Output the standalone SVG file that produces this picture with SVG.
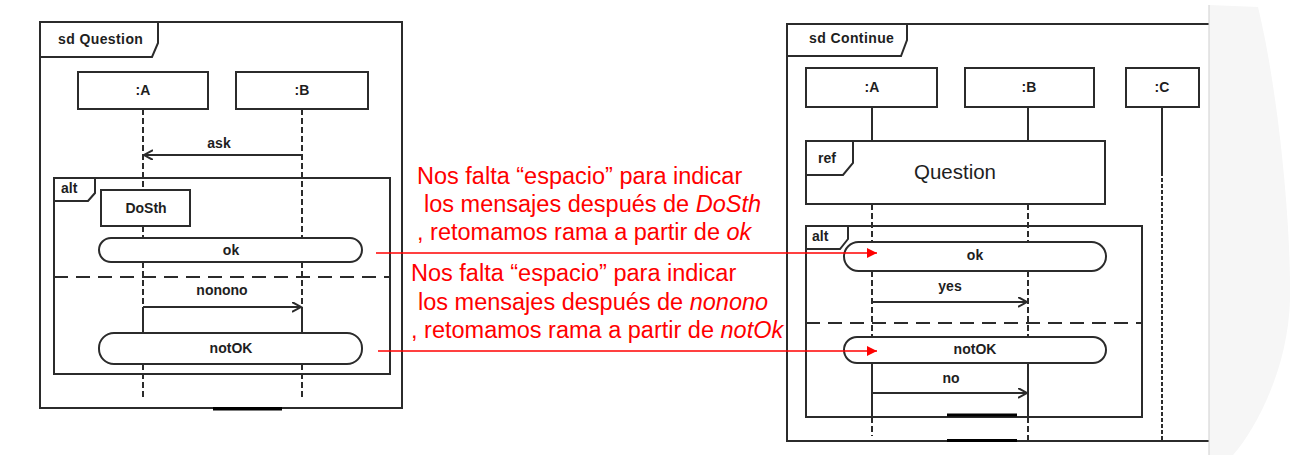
<svg xmlns="http://www.w3.org/2000/svg" width="1291" height="460" viewBox="0 0 1291 460">
<defs>
<style>
.fr{fill:none;stroke:#2b2b2b;stroke-width:2}
.bx{fill:#fff;stroke:#2b2b2b;stroke-width:2}
.ll{fill:none;stroke:#2b2b2b;stroke-width:2}
.dl{fill:none;stroke:#2b2b2b;stroke-width:2;stroke-dasharray:6 3}
.dc{fill:none;stroke:#2b2b2b;stroke-width:2;stroke-dasharray:4 2}
.dv{fill:none;stroke:#2b2b2b;stroke-width:2;stroke-dasharray:14 8}
.msg{fill:none;stroke:#2b2b2b;stroke-width:2}
.lb{font-family:"Liberation Sans",Arial,sans-serif;font-weight:bold;font-size:14px;fill:#1e1e1e}
.lbc{font-family:"Liberation Sans",Arial,sans-serif;font-weight:bold;font-size:14px;fill:#1e1e1e;text-anchor:middle}
.rt{font-family:"Liberation Sans",Arial,sans-serif;font-size:23.5px;fill:#ff0000}
.ra{fill:none;stroke:#ff0000;stroke-width:1.4}
</style>
<marker id="open" markerWidth="12" markerHeight="12" refX="9" refY="5" orient="auto" markerUnits="userSpaceOnUse">
<path d="M0,0 L9,5 L0,10" fill="none" stroke="#2b2b2b" stroke-width="2"/>
</marker>
<marker id="red" markerWidth="12" markerHeight="12" refX="10" refY="5" orient="auto" markerUnits="userSpaceOnUse">
<path d="M0,0 L10,5 L0,10 Z" fill="#ff0000"/>
</marker>
</defs>
<rect width="1291" height="460" fill="#fff"/>

<!-- Left diagram: sd Question -->
<g id="frame-question">
<rect class="fr" x="40" y="22" width="362" height="386"/>
<path class="fr" d="M40,57 H152 L158,43 V22"/>
<text class="lb" x="58" y="44" letter-spacing="0.4">sd Question</text>
</g>
<g id="alt-question">
<rect class="fr" x="54" y="178" width="336" height="196"/>
<path class="fr" d="M54,201 H88 L95,193 V178"/>
<text class="lb" x="61" y="193">alt</text>
<line class="dv" x1="54" y1="277" x2="390" y2="277"/>
</g>

<g id="connectors">
<!-- left lifelines -->
<line class="dl" x1="143" y1="109" x2="143" y2="190"/>
<line class="dl" x1="143" y1="226" x2="143" y2="238"/>
<line class="dl" x1="143" y1="262" x2="143" y2="307"/>
<line class="ll" x1="143" y1="307" x2="143" y2="333"/>
<line class="dl" x1="143" y1="364" x2="143" y2="400"/>
<line class="dl" x1="302" y1="109" x2="302" y2="238"/>
<line class="dl" x1="302" y1="262" x2="302" y2="307"/>
<line class="ll" x1="302" y1="307" x2="302" y2="333"/>
<line class="dl" x1="302" y1="364" x2="302" y2="400"/>
<!-- left messages -->
<line class="msg" x1="302" y1="155" x2="144" y2="155" marker-end="url(#open)"/>
<text class="lbc" x="219" y="148">ask</text>
<line class="msg" x1="143" y1="307" x2="301" y2="307" marker-end="url(#open)"/>
<text class="lbc" x="222" y="295">nonono</text>
<!-- right lifelines -->
<line class="ll" x1="872" y1="107" x2="872" y2="141"/>
<line class="dl" x1="872" y1="204" x2="872" y2="242"/>
<line class="dl" x1="872" y1="271" x2="872" y2="337"/>
<line class="ll" x1="872" y1="363" x2="872" y2="417"/>
<line class="dl" x1="872" y1="417" x2="872" y2="436"/>
<line class="ll" x1="1028" y1="107" x2="1028" y2="141"/>
<line class="dl" x1="1028" y1="204" x2="1028" y2="242"/>
<line class="dl" x1="1028" y1="271" x2="1028" y2="337"/>
<line class="ll" x1="1028" y1="363" x2="1028" y2="417"/>
<line class="dl" x1="1028" y1="417" x2="1028" y2="441"/>
<line class="ll" x1="1162" y1="107" x2="1162" y2="172"/>
<line class="dc" x1="1162" y1="172" x2="1162" y2="441"/>
<!-- right messages -->
<line class="msg" x1="872" y1="302" x2="1027" y2="302" marker-end="url(#open)"/>
<text class="lbc" x="950" y="291">yes</text>
<line class="msg" x1="872" y1="393" x2="1027" y2="393" marker-end="url(#open)"/>
<text class="lbc" x="951" y="383">no</text>
</g>

<g id="lifeline-A-left">
<rect class="bx" x="78" y="72" width="130" height="37"/>
<text class="lbc" x="143" y="95">:A</text>
</g>
<g id="lifeline-B-left">
<rect class="bx" x="236" y="72" width="132" height="37"/>
<text class="lbc" x="302" y="95">:B</text>
</g>
<g id="dosth">
<rect class="bx" x="101" y="190" width="89" height="36"/>
<text class="lbc" x="146" y="213">DoSth</text>
</g>
<g id="ok-left">
<rect class="bx" x="99" y="238" width="263" height="24" rx="12" ry="12"/>
<text class="lbc" x="231" y="255">ok</text>
</g>
<g id="notok-left">
<rect class="bx" x="99" y="333" width="263" height="31" rx="15" ry="15"/>
<text class="lbc" x="231" y="353">notOK</text>
</g>
<rect x="213" y="407" width="69" height="3.5" fill="#000"/>

<!-- Right diagram: sd Continue -->
<g id="frame-continue">
<path class="fr" d="M1209,24 H787 V441 H1209"/>
<path class="fr" d="M787,56 H901 L907,40 V24"/>
<text class="lb" x="809" y="43" letter-spacing="0.4">sd Continue</text>
</g>
<g id="lifeline-A-right">
<rect class="bx" x="806" y="68" width="131" height="39"/>
<text class="lbc" x="872" y="92">:A</text>
</g>
<g id="lifeline-B-right">
<rect class="bx" x="965" y="68" width="129" height="39"/>
<text class="lbc" x="1029" y="92">:B</text>
</g>
<g id="lifeline-C-right">
<rect class="bx" x="1126" y="68" width="73" height="39"/>
<text class="lbc" x="1162" y="92">:C</text>
</g>
<g id="ref-question">
<rect class="bx" x="806" y="141" width="299" height="63"/>
<path class="fr" d="M806,175 H843 L853,163 V141"/>
<text class="lb" x="818" y="163">ref</text>
<text x="955" y="179" text-anchor="middle" font-family="'Liberation Sans',Arial,sans-serif" font-size="20.5" fill="#1e1e1e">Question</text>
</g>
<g id="alt-continue">
<rect class="fr" x="806" y="226" width="336" height="191"/>
<path class="fr" d="M806,249 H840 L848,239 V226"/>
<text class="lb" x="812" y="241">alt</text>
<line class="dv" x1="806" y1="323" x2="1142" y2="323"/>
</g>
<g id="ok-right">
<rect class="bx" x="844" y="242" width="262" height="29" rx="14.5" ry="14.5"/>
<text class="lbc" x="975" y="260">ok</text>
</g>
<g id="notok-right">
<rect class="bx" x="844" y="337" width="262" height="26" rx="13" ry="13"/>
<text class="lbc" x="975" y="354">notOK</text>
</g>
<rect x="947" y="413.5" width="70" height="3" fill="#000"/>
<rect x="947" y="439" width="70" height="3" fill="#000"/>

<!-- right-edge overlay -->
<path d="M1209,5 L1258,7 C1278,90 1291,220 1290,300 C1288,370 1255,430 1233,455 L1209,455 Z" fill="#f6f6f6"/>
<line x1="1209" y1="5" x2="1209" y2="455" stroke="#cfcfcf" stroke-width="1"/>

<!-- red annotations -->
<g id="annotations">
<line class="ra" x1="376" y1="253" x2="877" y2="253" marker-end="url(#red)"/>
<line class="ra" x1="378" y1="351" x2="877" y2="351" marker-end="url(#red)"/>
<text class="rt" x="417" y="184">Nos falta “espacio” para indicar</text>
<text class="rt" x="424" y="212">los mensajes después de <tspan font-style="italic">DoSth</tspan></text>
<text class="rt" x="417" y="240">, retomamos rama a partir de <tspan font-style="italic">ok</tspan></text>
<text class="rt" x="411" y="281">Nos falta “espacio” para indicar</text>
<text class="rt" x="418" y="310">los mensajes después de <tspan font-style="italic">nonono</tspan></text>
<text class="rt" x="411" y="338">, retomamos rama a partir de <tspan font-style="italic">notOk</tspan></text>
</g>
</svg>
